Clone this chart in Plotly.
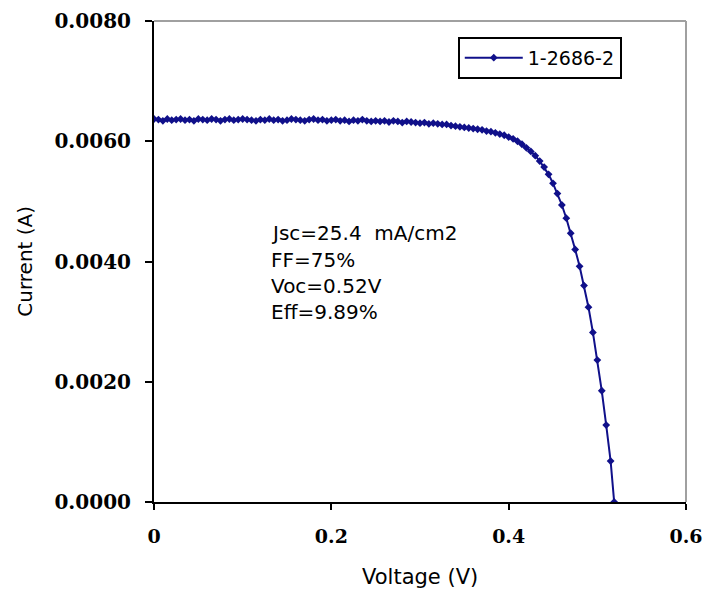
import plotly.graph_objects as go

series_name = "1-2686-2"
voltage = [
    0.000, 0.005, 0.010, 0.015, 0.020, 0.025, 0.030, 0.035, 0.040, 0.045,
    0.050, 0.055, 0.060, 0.065, 0.070, 0.075, 0.080, 0.085, 0.090, 0.095,
    0.100, 0.105, 0.110, 0.115, 0.120, 0.125, 0.130, 0.135, 0.140, 0.145,
    0.150, 0.155, 0.160, 0.165, 0.170, 0.175, 0.180, 0.185, 0.190, 0.195,
    0.200, 0.205, 0.210, 0.215, 0.220, 0.225, 0.230, 0.235, 0.240, 0.245,
    0.250, 0.255, 0.260, 0.265, 0.270, 0.275, 0.280, 0.285, 0.290, 0.295,
    0.300, 0.305, 0.310, 0.315, 0.320, 0.325, 0.330, 0.335, 0.340, 0.345,
    0.350, 0.355, 0.360, 0.365, 0.370, 0.375, 0.380, 0.385, 0.390, 0.395,
    0.400, 0.405, 0.410, 0.415, 0.420, 0.425, 0.430, 0.435, 0.440, 0.445,
    0.450, 0.455, 0.460, 0.465, 0.470, 0.475, 0.480, 0.485, 0.490, 0.495,
    0.500, 0.505, 0.510, 0.515, 0.519,
]
current = [
    0.00637, 0.00636, 0.00634, 0.00637, 0.00635, 0.00636, 0.00637, 0.00635, 0.00636, 0.00634,
    0.00637, 0.00636, 0.00635, 0.00637, 0.00636, 0.00634, 0.00636, 0.00637, 0.00635, 0.00636,
    0.00637, 0.00636, 0.00635, 0.00634, 0.00636, 0.00635, 0.00637, 0.00635, 0.00636, 0.00634,
    0.00635, 0.00637, 0.00636, 0.00635, 0.00634, 0.00636, 0.00637, 0.00635, 0.00636, 0.00634,
    0.00635, 0.00636, 0.00634, 0.00635, 0.00633, 0.00635, 0.00634, 0.00636, 0.00634, 0.00633,
    0.00634, 0.00633, 0.00634, 0.00632, 0.00634, 0.00633, 0.00631, 0.00633, 0.00632, 0.00631,
    0.00630, 0.00631, 0.00629, 0.00630, 0.00629, 0.00628, 0.00628, 0.00626, 0.00625, 0.00624,
    0.00623, 0.00622, 0.00621, 0.00620, 0.00619, 0.00617, 0.00616, 0.00614, 0.00612, 0.00610,
    0.00607, 0.00604, 0.00600, 0.00595, 0.00589, 0.00583, 0.00576, 0.00567, 0.00557, 0.00545,
    0.00530, 0.00513, 0.00494, 0.00472, 0.00447, 0.00420, 0.00392, 0.00360, 0.00324, 0.00282,
    0.00236, 0.00185, 0.00128, 0.00068, 0.00000,
]
x_ticks = [0, 0.2, 0.4, 0.6]
x_tick_labels = ["0", "0.2", "0.4", "0.6"]
y_ticks = [0.0, 0.002, 0.004, 0.006, 0.008]
y_tick_labels = ["0.0000", "0.0020", "0.0040", "0.0060", "0.0080"]
x_title = "Voltage (V)"
y_title = "Current (A)"
notes = ["Jsc=25.4  mA/cm2", "FF=75%", "Voc=0.52V", "Eff=9.89%"]

navy = "#10108a"
fig = go.Figure()
fig.add_trace(go.Scatter(
    x=voltage, y=current, mode="lines+markers", name=series_name,
    line=dict(color=navy, width=2),
    marker=dict(symbol="diamond", size=6, color=navy),
))

tick_font = dict(family="DejaVu Serif", size=20, color="black", weight="bold")
label_font = dict(family="DejaVu Sans", size=19, color="black")
fig.update_layout(
    width=703, height=589,
    margin=dict(l=154, r=17, t=21, b=87, autoexpand=False),
    plot_bgcolor="white", paper_bgcolor="white",
    showlegend=True,
    legend=dict(
        x=0.571, y=0.967, xanchor="left", yanchor="top",
        bordercolor="black", borderwidth=2, bgcolor="white",
        font=label_font, itemwidth=58,
    ),
    xaxis=dict(
        range=[0, 0.6], tickvals=x_ticks, ticktext=x_tick_labels,
        showgrid=False, zeroline=False, showline=True, linecolor="black", linewidth=2,
        ticks="outside", ticklen=6, tickwidth=2, tickcolor="black",
        tickfont=dict(family="DejaVu Serif", size=19, color="black", weight="bold"),
        ticklabelstandoff=10, ticklabeloverflow="allow", automargin=False,
    ),
    yaxis=dict(
        range=[0, 0.008], tickvals=y_ticks, ticktext=y_tick_labels,
        showgrid=False, zeroline=False, showline=True, linecolor="black", linewidth=2,
        ticks="outside", ticklen=7, tickwidth=2, tickcolor="black",
        tickfont=tick_font, ticklabelstandoff=10, automargin=False,
    ),
)
fig.add_shape(type="line", xref="paper", yref="paper", x0=0, x1=1, y0=1, y1=1,
              line=dict(color="#a0a0a0", width=2))
fig.add_shape(type="line", xref="paper", yref="paper", x0=1, x1=1, y0=0, y1=1,
              line=dict(color="#a0a0a0", width=2))

fig.add_annotation(x=0.5, y=-0.156, xref="paper", yref="paper", text=x_title,
                   showarrow=False, xanchor="center", yanchor="middle",
                   font=dict(family="DejaVu Sans", size=21, color="black"))
fig.add_annotation(x=-0.244, y=0.5, xref="paper", yref="paper", text=y_title,
                   showarrow=False, xanchor="center", yanchor="middle", textangle=-90,
                   font=dict(family="DejaVu Sans", size=20, color="black"))

for i, t in enumerate(notes):
    fig.add_annotation(
        x=0.1297, y=0.00447 - i * 0.000438, xref="x", yref="y",
        text=t, showarrow=False, xanchor="left", yanchor="middle",
        font=dict(family="DejaVu Sans", size=20, color="black"),
    )

fig.write_html("out.html")
